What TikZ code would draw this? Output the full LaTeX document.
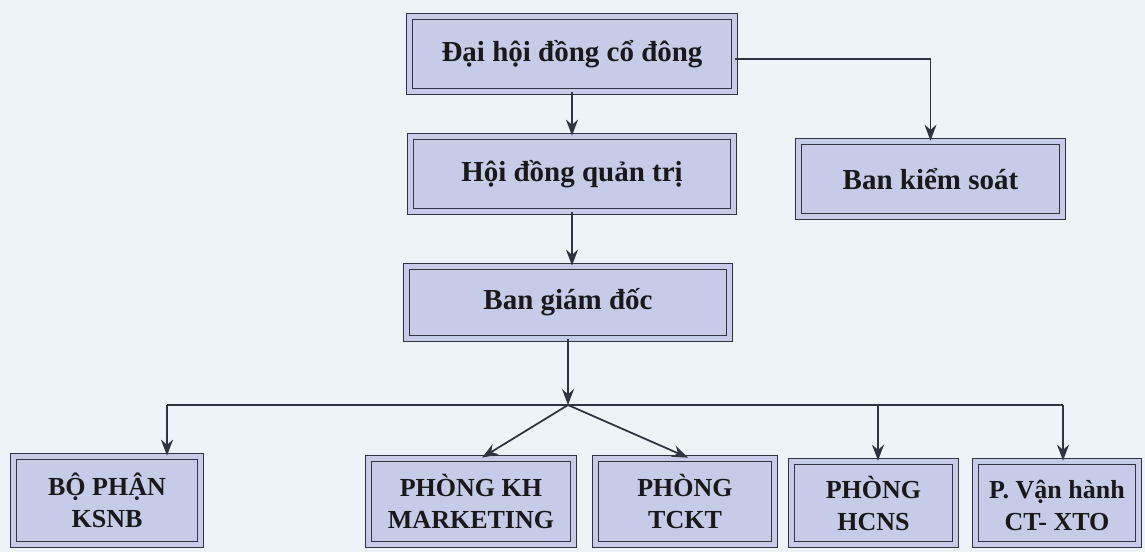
\documentclass[tikz,border=0pt]{standalone}
\usepackage{fontspec}
\setmainfont{Liberation Serif}
\usetikzlibrary{arrows.meta}
\definecolor{bgc}{HTML}{EDF4F7}
\definecolor{boxc}{HTML}{C6CBE8}
\definecolor{linec}{HTML}{2F3440}
\begin{document}
\begin{tikzpicture}[x=0.02cm,y=-0.02cm,
  box/.style={draw=linec, line width=1pt, double=boxc, double distance=2.4pt,
    fill=boxc, text=black!90, font=\bfseries\fontsize{16.5}{20}\selectfont,
    align=center, inner sep=0pt},
  lowbox/.style={box, font=\bfseries\fontsize{14.8}{18.1}\selectfont,
    text height=1.08cm, text depth=0pt},
  conn/.style={draw=linec, line width=1pt},
  arr/.style={conn, -{Stealth[length=3.2mm,width=2.4mm]}}]
\fill[bgc] (0,0) rectangle (1145,552);
\useasboundingbox (0,0) rectangle (1145,552);

\node[box, minimum width=6.5cm, minimum height=1.5cm] (dh) at (572,54) {Đại hội đồng cổ đông};
\node[box, minimum width=6.46cm, minimum height=1.5cm] (hd) at (572,174) {Hội đồng quản trị};
\node[box, minimum width=5.28cm, minimum height=1.5cm] (bks) at (930.5,179) {Ban kiểm soát};
\node[box, minimum width=6.46cm, minimum height=1.44cm] (bgd) at (568,302.5) {Ban giám đốc};
\node[lowbox, minimum width=3.74cm, minimum height=1.76cm] (ksnb) at (107,500.5) {BỘ PHẬN\\KSNB};
\node[lowbox, minimum width=4.1cm, minimum height=1.72cm] (mkt) at (471,501.5) {PHÒNG KH\\MARKETING};
\node[lowbox, minimum width=3.58cm, minimum height=1.72cm] (tckt) at (685,501.5) {PHÒNG\\TCKT};
\node[lowbox, minimum width=3.28cm, minimum height=1.66cm] (hcns) at (873.5,503) {PHÒNG\\HCNS};
\node[lowbox, minimum width=3.26cm, minimum height=1.66cm] (vh) at (1057,503) {P. Vận hành\\CT- XTO};

\draw[arr] (dh.south) -- (hd.north);
\draw[arr] ([yshift=-0.1cm]dh.east) -| (bks.north);
\draw[arr] (hd.south) -- (hd.south |- bgd.north);
\coordinate (j) at (568,405);
\draw[arr] (bgd.south) -- (j);
\coordinate (cl) at (167,405);
\coordinate (ch) at (878,405);
\coordinate (cr) at (1063,405);
\draw[conn] (cl) -- (cr);
\draw[arr] (cl) -- (cl |- ksnb.north);
\draw[arr] (ch) -- (ch |- hcns.north);
\draw[arr] (cr) -- (cr |- vh.north);
\draw[arr] (j) -- ([xshift=0.22cm]mkt.north);
\draw[arr] (j) -- ([xshift=0.06cm]tckt.north);
\end{tikzpicture}
\end{document}
